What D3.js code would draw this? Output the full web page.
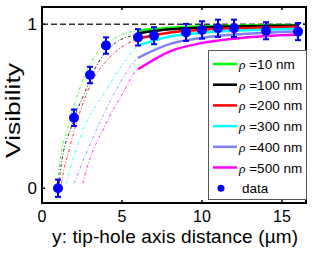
<!DOCTYPE html>
<html>
<head>
<meta charset="utf-8">
<script src="https://cdn.jsdelivr.net/npm/d3@7"></script>
<style>
 body { margin: 0; background: #fff; }
 text { font-family: 'Liberation Sans', Arial, sans-serif; }
</style>
</head>
<body>
<svg id="chart" width="316" height="256"></svg>
<script>
// measured visibility points (distance in um, visibility, error)
var dataX = [1, 2, 3, 4, 6, 7, 9, 10, 11, 12, 14, 16];
var dataY = [0, 0.43, 0.69, 0.87, 0.92, 0.93, 0.95, 0.965, 0.975, 0.975, 0.96, 0.955];
var dataErr = [0.053, 0.05, 0.05, 0.05, 0.05, 0.052, 0.052, 0.053, 0.053, 0.053, 0.052, 0.052];

// model curves, dash-dot part (y < 6 um) and solid part (y >= 6 um)
var rhoLabels = ['10', '100', '200', '300', '400', '500'];
var rhoColors = ['#00ff00', '#000000', '#ff0000', '#00ffff', '#8080ff', '#ff00ff'];
var rho10Near = [[0.98, 0.03], [1.04, 0.10], [1.66, 0.386], [2.29, 0.59], [3.33, 0.81], [4.37, 0.905], [5.62, 0.955], [6, 0.962]];
var rho10Far = [[6, 0.962], [8, 0.979], [10, 0.987], [12, 0.991], [14, 0.994], [16, 0.995]];
var rho100Near = [[1.08, 0.03], [1.14, 0.10], [1.87, 0.386], [2.7, 0.59], [3.54, 0.77], [4.58, 0.885], [5.83, 0.938], [6, 0.945]];
var rho100Far = [[6, 0.945], [8, 0.969], [10, 0.98], [12, 0.986], [14, 0.99], [16, 0.992]];
var rho200Near = [[1.22, 0.03], [1.25, 0.05], [1.66, 0.22], [2.39, 0.47], [3.12, 0.65], [4.16, 0.79], [5.83, 0.905], [6, 0.912]];
var rho200Far = [[6, 0.912], [8, 0.95], [10, 0.966], [12, 0.975], [14, 0.98], [16, 0.984]];
var rho300Near = [[1.5, 0.03], [1.56, 0.05], [2.7, 0.386], [3.96, 0.59], [5, 0.75], [5.94, 0.865], [6, 0.87]];
var rho300Far = [[6, 0.87], [8, 0.925], [10, 0.948], [12, 0.96], [14, 0.967], [16, 0.972]];
var rho400Near = [[2.0, 0.03], [2.08, 0.05], [3.54, 0.386], [4.58, 0.59], [5.94, 0.79], [6, 0.795]];
var rho400Far = [[6, 0.795], [8, 0.88], [10, 0.918], [12, 0.937], [14, 0.948], [16, 0.955]];
var rho500Near = [[2.55, 0.03], [2.6, 0.05], [3.96, 0.386], [5.0, 0.57], [5.93, 0.72], [6, 0.725]];
var rho500Far = [[6, 0.725], [8, 0.835], [10, 0.885], [12, 0.912], [14, 0.928], [16, 0.937]];

var xTicks = [0, 5, 10, 15];
var yTicks = [0, 1];

var nearCurves = [rho10Near, rho100Near, rho200Near, rho300Near, rho400Near, rho500Near];
var farCurves = [rho10Far, rho100Far, rho200Far, rho300Far, rho400Far, rho500Far];

var svg = d3.select('#chart');
var box = {left: 42, right: 306, top: 7, bottom: 203};

var x = d3.scaleLinear().domain([0, 16.5]).range([box.left, box.right]);
var y = d3.scaleLinear().domain([-0.09, 1.105]).range([box.bottom, box.top]);

// everything inside the axes box is clipped
svg.append('clipPath').attr('id', 'plotClip')
 .append('rect')
 .attr('x', box.left).attr('y', box.top)
 .attr('width', box.right - box.left).attr('height', box.bottom - box.top);

var plot = svg.append('g').attr('clip-path', 'url(#plotClip)');

// reference line at visibility = 1
plot.append('line')
 .attr('x1', x(0)).attr('x2', x(16.5))
 .attr('y1', y(1)).attr('y2', y(1))
 .style('stroke', '#333')
 .style('stroke-width', '1.5px')
 .style('stroke-dasharray', '6,3');

var line = d3.line()
 .x(function(d) { return x(d[0]); })
 .y(function(d) { return y(d[1]); })
 .curve(d3.curveMonotoneX);

// thin dash-dot extrapolation first, thick solid lines over it
for (var i = 0; i < nearCurves.length; i++)
{
 plot.append('path')
  .attr('d', line(nearCurves[i]))
  .style('fill', 'none')
  .style('stroke', rhoColors[i])
  .style('stroke-width', '1px')
  .style('stroke-opacity', 0.8)
  .style('stroke-dasharray', '3,2,1,2');
}
for (var i = 0; i < farCurves.length; i++)
{
 plot.append('path')
  .attr('d', line(farCurves[i]))
  .style('fill', 'none')
  .style('stroke', rhoColors[i])
  .style('stroke-width', '2.5px');
}

// data points with error bars
var points = plot.selectAll('.data_point')
 .data(dataX.map(function(d, k) { return {x: d, y: dataY[k], e: dataErr[k]}; }))
 .enter().append('g')
 .attr('class', 'data_point');

points.append('line')
 .attr('x1', function(d) { return x(d.x); })
 .attr('x2', function(d) { return x(d.x); })
 .attr('y1', function(d) { return y(d.y - d.e); })
 .attr('y2', function(d) { return y(d.y + d.e); })
 .style('stroke', '#0000ff').style('stroke-width', '2px');

[-1, 1].forEach(function(s) {
 points.append('line')
  .attr('x1', function(d) { return x(d.x) - 3; })
  .attr('x2', function(d) { return x(d.x) + 3; })
  .attr('y1', function(d) { return y(d.y + s * d.e); })
  .attr('y2', function(d) { return y(d.y + s * d.e); })
  .style('stroke', '#0000ff').style('stroke-width', '2px');
});

points.append('circle')
 .attr('cx', function(d) { return x(d.x); })
 .attr('cy', function(d) { return y(d.y); })
 .attr('r', 5)
 .style('fill', '#0000ff');

// axes box with inward ticks (matlab style)
var axes = svg.append('g');
xTicks.forEach(function(t) {
 axes.append('line').attr('x1', x(t)).attr('x2', x(t))
  .attr('y1', box.bottom).attr('y2', box.bottom - 3)
  .style('stroke', '#000').style('stroke-width', '1.5px');
 axes.append('line').attr('x1', x(t)).attr('x2', x(t))
  .attr('y1', box.top).attr('y2', box.top + 3)
  .style('stroke', '#000').style('stroke-width', '1.5px');
 axes.append('text')
  .attr('x', x(t)).attr('y', 222)
  .attr('text-anchor', 'middle')
  .attr('font-size', 16)
  .text(t);
});
yTicks.forEach(function(t) {
 axes.append('line').attr('x1', box.left).attr('x2', box.left + 3)
  .attr('y1', y(t)).attr('y2', y(t))
  .style('stroke', '#000').style('stroke-width', '1.5px');
 axes.append('line').attr('x1', box.right).attr('x2', box.right - 3)
  .attr('y1', y(t)).attr('y2', y(t))
  .style('stroke', '#000').style('stroke-width', '1.5px');
 axes.append('text')
  .attr('x', 37).attr('y', y(t) + 6)
  .attr('text-anchor', 'end')
  .attr('font-size', 17)
  .text(t);
});

axes.append('rect')
 .attr('x', box.left).attr('y', box.top)
 .attr('width', box.right - box.left).attr('height', box.bottom - box.top)
 .style('fill', 'none').style('stroke', '#000').style('stroke-width', '2px');

// axis titles
svg.append('text')
 .attr('x', 175).attr('y', 243)
 .attr('text-anchor', 'middle')
 .attr('font-size', 19)
 .attr('textLength', 246)
 .text('y: tip-hole axis distance (\u00b5m)');

svg.append('text')
 .attr('transform', 'translate(19.5,110.5) rotate(-90)')
 .attr('text-anchor', 'middle')
 .attr('font-size', 20)
 .attr('textLength', 95)
 .attr('lengthAdjust', 'spacingAndGlyphs')
 .text('Visibility');

// legend
var legend = svg.append('g');
legend.append('rect')
 .attr('x', 208.5).attr('y', 50.5)
 .attr('width', 98).attr('height', 149)
 .style('fill', '#fff').style('stroke', '#555').style('stroke-width', '1px');

var rowY = d3.scaleLinear().domain([0, 6]).range([64, 188.2]);
rhoLabels.forEach(function(lab, k) {
 legend.append('line')
  .attr('x1', 213).attr('x2', 237)
  .attr('y1', rowY(k)).attr('y2', rowY(k))
  .style('stroke', rhoColors[k]).style('stroke-width', '2.5px');
 var t = legend.append('text')
  .attr('x', 239).attr('y', rowY(k) + 5)
  .attr('font-size', 13.5);
 t.append('tspan').style('font-family', 'Liberation Serif').style('font-style', 'italic').text('\u03c1');
 t.append('tspan').text(' =' + lab + ' nm');
});
legend.append('circle')
 .attr('cx', 221).attr('cy', rowY(6)).attr('r', 3.5)
 .style('fill', '#0000ff');
legend.append('text')
 .attr('x', 242).attr('y', rowY(6) + 5)
 .attr('font-size', 13.5)
 .text('data');
</script>
</body>
</html>
